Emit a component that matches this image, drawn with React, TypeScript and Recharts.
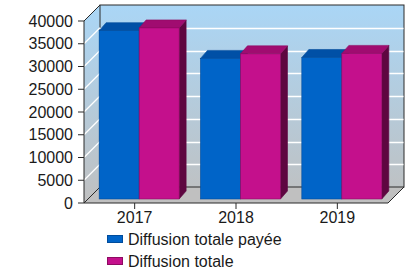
import React from "react";
import { BarChart, Bar, XAxis, YAxis, ReferenceArea, Legend } from "recharts";

const years = ["2017", "2018", "2019"];
const diffusionPayee = [37000, 30900, 31100];
const diffusionTotale = [37600, 31900, 32000];
const yTicks = [0, 5000, 10000, 15000, 20000, 25000, 30000, 35000, 40000];

const seriesNames = ["Diffusion totale payée", "Diffusion totale"];

const data = years.map((year, i) => ({
  year,
  payee: diffusionPayee[i],
  totale: diffusionTotale[i],
}));

// depth of the box and of the bars
const WALL = 16;
const BAR_IN = 4;
const BAR_DX = 7;
const BAR_DY = 8;
const FONT = "'Liberation Sans', Arial, sans-serif";
const EDGE = "#2a2a2a";

const BLUE = { front: "#0064c8", top: "#0050a6", side: "#003a7a", edge: "#004c9c" };
const PINK = { front: "#c4108c", top: "#a00c70", side: "#5e0640", edge: "#8e0a62" };

function Bar3D(props: any) {
  const { x, y, width, height, colors } = props;
  if (!width || height == null) return null;
  const fx = x + BAR_IN;
  const fy = y - BAR_IN;
  const w = width;
  const h = height;
  const top = `${fx},${fy} ${fx + BAR_DX},${fy - BAR_DY} ${fx + w + BAR_DX},${fy - BAR_DY} ${fx + w},${fy}`;
  const side = `${fx + w},${fy} ${fx + w + BAR_DX},${fy - BAR_DY} ${fx + w + BAR_DX},${fy + h - BAR_DY} ${fx + w},${fy + h}`;
  return (
    <g>
      <polygon points={side} fill={colors.side} stroke={colors.side} strokeWidth={0.6} />
      <polygon points={top} fill={colors.top} stroke={colors.edge} strokeWidth={0.6} />
      <rect x={fx} y={fy} width={w} height={h} fill={colors.front} stroke={colors.edge} strokeWidth={0.6} />
    </g>
  );
}

function Walls(props: any) {
  const { x, y, width, height } = props;
  const b = y + height;
  return (
    <g>
      <defs>
        <linearGradient id="wallGrad" gradientUnits="userSpaceOnUse" x1={0} y1={y - WALL} x2={0} y2={b}>
          <stop offset="0%" stopColor="#aad6f6" />
          <stop offset="100%" stopColor="#c0c0c0" />
        </linearGradient>
      </defs>
      <polygon
        points={`${x},${y} ${x + WALL},${y - WALL} ${x + WALL},${b - WALL} ${x},${b}`}
        fill="url(#wallGrad)"
      />
      <rect x={x + WALL} y={y - WALL} width={width} height={height} fill="url(#wallGrad)" />
      <polygon
        points={`${x},${b} ${x + width},${b} ${x + width + WALL},${b - WALL} ${x + WALL},${b - WALL}`}
        fill="#c0c0c0"
      />
      <g fill="none" stroke={EDGE} strokeWidth={1}>
        <rect x={x + WALL} y={y - WALL} width={width} height={height} />
        <line x1={x} y1={y} x2={x + WALL} y2={y - WALL} />
        <line x1={x} y1={b} x2={x + WALL} y2={b - WALL} />
        <line x1={x + width} y1={b} x2={x + width + WALL} y2={b - WALL} />
      </g>
    </g>
  );
}

// white grid line on the back wall (and side wall) at the top edge of one tick band
function WallGridLine(p: any) {
  const { x, y, width } = p;
  const gy = Math.round(y - WALL) + 0.5;
  return (
    <g>
      <line x1={x + WALL} y1={gy} x2={x + width + WALL - 0.5} y2={gy} stroke="#ffffff" strokeWidth={1.3} />
      <line x1={x} y1={y} x2={x + WALL} y2={y - WALL} stroke="#ffffff" strokeWidth={1.2} />
    </g>
  );
}

function LegendBox() {
  const colors = [BLUE, PINK];
  return (
    <svg width={220} height={46} style={{ display: "block" }}>
      {seriesNames.map((name, i) => (
        <g key={name}>
          <rect x={7.5} y={7.5 + i * 22} width={15} height={7} fill={colors[i].front} stroke={colors[i].edge} strokeWidth={1} />
          <text x={28} y={17 + i * 22} fontSize={16} fontFamily={FONT} fill="#1a1a1a">
            {name}
          </text>
        </g>
      ))}
    </svg>
  );
}

export default function App() {
  return (
    <div style={{ position: "absolute", left: 0, top: 0, width: 410, height: 272, background: "#fff" }}>
      <BarChart
        width={410}
        height={272}
        data={data}
        margin={{ top: 21, right: 22, bottom: 0, left: 0 }}
        barCategoryGap="11%"
        barGap={0}
      >
        <ReferenceArea y1={0} y2={40000} ifOverflow="visible" shape={Walls} />
        {yTicks.slice(0, -2).map((t, i) => (
          <ReferenceArea key={t} y1={t} y2={yTicks[i + 1]} ifOverflow="visible" shape={WallGridLine} />
        ))}
        <XAxis
          dataKey="year"
          height={23}
          axisLine={{ stroke: EDGE }}
          tickLine={{ stroke: EDGE }}
          tickSize={6}
          tickMargin={3}
          tick={{ fill: "#1a1a1a", fontSize: 16, fontFamily: FONT }}
        />
        <YAxis
          domain={[0, 40000]}
          ticks={yTicks}
          interval={0}
          width={84}
          axisLine={{ stroke: EDGE }}
          tickLine={{ stroke: EDGE }}
          tickSize={6}
          tickMargin={5}
          tick={{ fill: "#1a1a1a", fontSize: 16, fontFamily: FONT }}
        />
        <Legend
          layout="horizontal"
          verticalAlign="bottom"
          align="left"
          wrapperStyle={{ top: 228, left: 100, width: 220, height: 46, bottom: "auto" }}
          content={() => <LegendBox />}
        />
        <Bar dataKey="payee" name={seriesNames[0]} isAnimationActive={false} shape={(p: any) => <Bar3D {...p} colors={BLUE} />} />
        <Bar dataKey="totale" name={seriesNames[1]} isAnimationActive={false} shape={(p: any) => <Bar3D {...p} colors={PINK} />} />
      </BarChart>
    </div>
  );
}
